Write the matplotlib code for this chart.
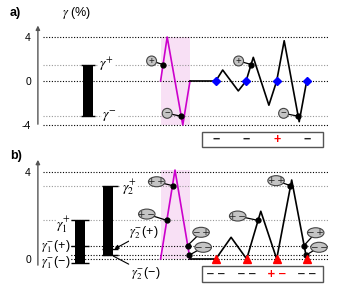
# two-panel schematic: gamma levels and switching traces
import numpy as np
import matplotlib
matplotlib.use("Agg")
import matplotlib.pyplot as plt
from matplotlib.patches import Ellipse, Rectangle

plt.rcParams['font.family'] = ['Liberation Sans', 'DejaVu Sans']
plt.rcParams['mathtext.fontset'] = 'stix'

# ---- panel a data (gamma in %, x in pulse units) ----
a_gplus, a_gminus = 1.5, -3.2
a_levels = [4, 0, -4]
a_mag_t = [0.02, 0.24, 0.76, 1.0]
a_mag_y = [0, 4, -4, 0]
a_blk_t = [1.0, 1.86, 2.09, 2.61, 2.87, 3.11, 3.63, 3.89, 4.14, 4.64, 4.89]
a_blk_y = [0, 0, 1.0, -0.9, 0, 2.15, -2.2, 0, 3.66, -3.7, 0]
a_read_t = [1.86, 2.87, 3.89, 4.89]
a_read_lab = ['−', '−', '+', '−']
a_dot_t = [0.10, 0.70, 3.04, 4.61]
a_dot_y = [1.5, -3.2, 1.5, -3.2]
a_tag_t = [-0.28, 0.24, 2.62, 4.12]
a_tag_y = [1.82, -2.94, 1.82, -2.94]
a_tag_s = ['+', '−', '+', '−']

# ---- panel b data ----
b_g1p, b_g1m_p, b_g1m_m = 1.78, 0.62, -0.17
b_g2p, b_g2m_p, b_g2m_m = 3.38, 0.46, 0.18
b_levels = [4, 0.62, 0.18, 0]
b_mag_t = [0.02, 0.5, 1.0]
b_mag_y = [0, 4.1, 0]
b_blk_t = [1.0, 1.86, 2.37, 2.89, 3.36, 3.89, 4.39, 4.89]
b_blk_y = [0, 0, 1.0, 0, 2.2, 0, 3.64, 0]
b_read_t = [1.86, 2.89, 3.89, 4.89]
b_read_lab = ['−−', '−−', '+−', '−−']
b_dot_t = [0.23, 0.42, 0.92, 0.98, 3.27, 4.35, 4.80, 4.87]
b_dot_y = [1.78, 3.38, 0.62, 0.18, 1.78, 3.38, 0.62, 0.18]
b_tag_t = [-0.44, -0.11, 1.37, 1.44, 2.59, 3.87, 5.19, 5.30]
b_tag_y = [2.07, 3.56, 1.23, 0.54, 1.98, 3.61, 1.21, 0.54]
b_tag_s = ['+−', '++', '−+', '−−', '+−', '++', '−+', '−−']

MAG = '#cc00cc'
SHADE = '#f8e0f5'
TAGC = '#c4c4c4'
dots = dict(ls='none', marker='o', ms=3.5, color='k', zorder=6)
THIN = '\u2009'

fig = plt.figure(figsize=(3.39, 2.88), dpi=100)
ax_a = fig.add_axes([0, 138 / 288, 1, 150 / 288])
ax_b = fig.add_axes([0, 0, 1, 138 / 288])
ax_a.set_xlim(-5.333, 5.967)
ax_a.set_ylim(-6.273, 7.364)
ax_b.set_xlim(-5.333, 5.967)
ax_b.set_ylim(-1.336, 5.023)

for ax, lo, hi, ticks in [(ax_a, -4.18, 5.3, [-4, 0, 4]), (ax_b, -0.41, 4.7, [0, 4])]:
    for s in ax.spines.values():
        s.set_visible(False)
    ax.spines['left'].set_position(('data', -4.07))
    ax.set_xticks([])
    ax.set_yticks(ticks)
    ax.set_yticklabels([str(t) for t in ticks], fontsize=7.5)
    ax.tick_params(axis='y', length=0, pad=5)
    ax.annotate('', xy=(-4.07, hi), xytext=(-4.07, lo),
                arrowprops=dict(arrowstyle='-|>', lw=1, color='#555', mutation_scale=6))

# ================= panel a =================
ax = ax_a
ax.text(-5.0, 6.2, 'a)', fontsize=9, fontweight='bold', va='center')
ax.text(-3.25, 6.2, r'$\gamma$ (%)', fontsize=9, va='center')
ax.hlines(a_levels, -3.9, 5.6, colors='k', linestyles=(0, (1, 1.5)), lw=0.8, zorder=1)
ax.hlines([a_gplus, a_gminus], -3.9, 5.6, colors='#999', linestyles=(0, (1, 1.5)), lw=0.8, zorder=1)
ax.fill_between([0.02, 1.0], -4, 4, color=SHADE, lw=0, zorder=0)

ax.bar(-2.39, a_gplus - a_gminus, bottom=a_gminus, width=0.33, color='k', zorder=3)
ax.hlines([a_gplus, a_gminus], -2.62, -2.16, colors='k', lw=1, zorder=3)
ax.text(-2.02, a_gplus, r'$\gamma^{+}$', fontsize=10, va='center', ha='left',
        bbox=dict(fc='white', ec='none', pad=0.3), zorder=3)
ax.text(-1.93, a_gminus, r'$\gamma^{-}$', fontsize=10, va='center', ha='left',
        bbox=dict(fc='white', ec='none', pad=0.3), zorder=3)

ax.plot(a_mag_t, a_mag_y, color=MAG, lw=1.2, zorder=4)
ax.plot(a_blk_t, a_blk_y, color='k', lw=1.2, zorder=4)
ax.plot(a_read_t, [0] * len(a_read_t), ls='none', marker='D', ms=4.5, color='#0000ff', zorder=7)
ax.plot(a_dot_t, a_dot_y, **dots)
for tt, ty, dt, dy, s in zip(a_tag_t, a_tag_y, a_dot_t, a_dot_y, a_tag_s):
    ax.plot([tt, dt], [ty, dy], color='k', lw=0.9, zorder=5)
    ax.add_patch(Ellipse((tt, ty), 0.33, 0.9, fc=TAGC, ec='#444', lw=0.8, zorder=8))
    ax.text(tt, ty, s, fontsize=7, ha='center', va='center', color='#222', zorder=9)

ax.add_patch(Rectangle((1.41, -6.03), 4.01, 1.42, fill=False, ec='#555', lw=1))
for t, s in zip(a_read_t, a_read_lab):
    ax.text(t, -5.32, s, fontsize=9, ha='center', va='center',
            color='red' if s.startswith('+') else '#222', fontweight='bold')

# ================= panel b =================
ax = ax_b
ax.text(-5.0, 4.75, 'b)', fontsize=9, fontweight='bold', va='center')
ax.hlines(b_levels, -3.9, 5.6, colors='k', linestyles=(0, (1, 1.5)), lw=0.8, zorder=1)
ax.hlines([b_g2p, b_g1p], -3.9, 5.6, colors='#999', linestyles=(0, (1, 1.5)), lw=0.8, zorder=1)
ax.fill_between([0.02, 1.0], 0, 4.1, color=SHADE, lw=0, zorder=0)

ax.bar(-2.67, b_g1p - b_g1m_m, bottom=b_g1m_m, width=0.33, color='k', zorder=3)
ax.hlines([b_g1p, b_g1m_p, b_g1m_m], -2.97, -2.37, colors='k', lw=1, zorder=3)
ax.bar(-1.72, b_g2p - b_g2m_m, bottom=b_g2m_m, width=0.33, color='k', zorder=3)
ax.hlines([b_g2p, b_g2m_p, b_g2m_m], -1.94, -1.40, colors='k', lw=1, zorder=3)

wbox = dict(fc='white', ec='none', pad=0.2)
ax.text(-2.98, 1.6, r'$\gamma_1^{+}$', fontsize=10, ha='right', va='center', bbox=wbox, zorder=3)
ax.text(-1.28, 3.3, r'$\gamma_2^{+}$', fontsize=10, ha='left', va='center', bbox=wbox, zorder=3)
ax.text(-2.98, b_g1m_p - 0.05, r'$\gamma_1^{-}$(+)', fontsize=9, ha='right', va='center', bbox=wbox, zorder=3)
ax.text(-2.98, b_g1m_m + 0.02, r'$\gamma_1^{-}$(−)', fontsize=9, ha='right', va='center', bbox=wbox, zorder=3)
ax.annotate(r'$\gamma_2^{-}$(+)', xy=(-1.52, b_g2m_p), xytext=(-1.03, 1.2), fontsize=9,
            ha='left', va='center', bbox=wbox, zorder=3,
            arrowprops=dict(arrowstyle='-|>', lw=0.8, color='k', mutation_scale=6, shrinkA=0, shrinkB=0))
ax.annotate(r'$\gamma_2^{-}$(−)', xy=(-1.55, b_g2m_m - 0.05), xytext=(-0.95, -0.66), fontsize=9,
            ha='left', va='center', zorder=3,
            arrowprops=dict(arrowstyle='-', lw=0.8, color='k', shrinkA=0, shrinkB=0))

ax.plot(b_mag_t, b_mag_y, color=MAG, lw=1.2, zorder=4)
ax.plot(b_blk_t, b_blk_y, color='k', lw=1.2, zorder=4)
ax.plot(b_read_t, [0] * len(b_read_t), ls='none', marker='^', ms=6, color='#ff0000', zorder=7)
ax.plot(b_dot_t, b_dot_y, **dots)
for tt, ty, dt, dy, s in zip(b_tag_t, b_tag_y, b_dot_t, b_dot_y, b_tag_s):
    ax.plot([tt, dt], [ty, dy], color='k', lw=0.9, zorder=5)
    ax.add_patch(Ellipse((tt, ty), 0.55, 0.46, fc=TAGC, ec='#444', lw=0.8, zorder=8))
    ax.text(tt, ty, THIN.join(s), fontsize=6.5, ha='center', va='center', color='#222', zorder=9,
            family=['DejaVu Sans'])

ax.add_patch(Rectangle((1.41, -1.046), 4.01, 0.726, fill=False, ec='#555', lw=1, clip_on=False))
for t, s in zip(b_read_t, b_read_lab):
    ax.text(t, -0.69, THIN.join(s), fontsize=7.5, ha='center', va='center',
            color='red' if s.startswith('+') else '#222', fontweight='bold', family=['DejaVu Sans'])

fig.savefig('out.png', dpi=100)
